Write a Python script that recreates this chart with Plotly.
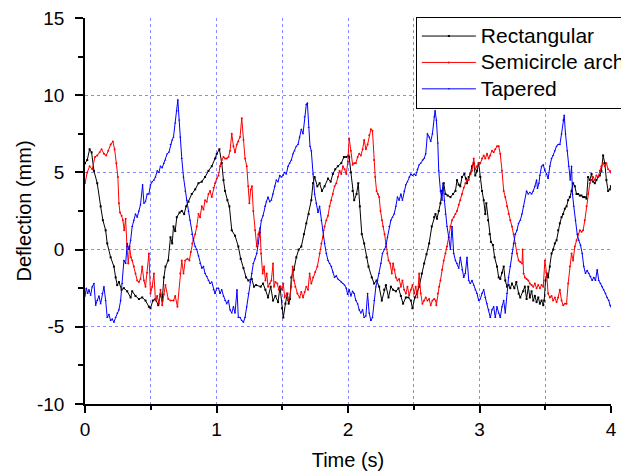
import plotly.graph_objects as go

# ---- Rectangular (black) ----
rect_t = [0.000,0.017,0.035,0.050,0.068,0.093,0.119,0.136,0.157,0.169,0.195,0.220,0.233,0.245,0.258,0.278,0.296,0.321,0.347,0.359,0.384,0.410,0.435,0.460,0.486,0.498,0.516,0.536,0.557,0.574,0.587,0.600,0.612,0.633,0.650,0.663,
          0.673,0.686,0.698,0.719,0.736,0.754,0.769,0.787,0.812,0.838,0.863,0.888,0.913,0.939,0.964,0.989,1.002,1.022,1.040,1.053,1.065,1.083,1.098,1.116,1.141,1.166,1.184,1.205,1.225,1.242,1.268,1.285,1.301,
          1.336,1.354,1.372,1.392,1.412,1.430,1.448,1.468,1.483,1.498,1.508,1.524,1.539,1.549,1.559,1.569,1.589,1.607,1.625,1.645,1.665,1.683,1.701,1.721,1.734,1.746,1.767,1.784,1.802,1.822,1.848,1.868,1.885,1.903,1.923,1.949,1.969,1.987,2.004,
          2.009,2.022,2.035,2.047,2.065,2.078,2.090,2.105,2.123,2.141,2.156,2.181,2.199,2.217,2.237,2.257,2.275,2.288,2.308,2.326,2.343,2.364,2.384,2.402,2.419,2.440,2.460,2.478,2.490,2.508,2.523,2.541,2.561,2.579,2.597,2.617,2.637,2.655,
          2.665,2.677,2.690,2.703,2.715,2.728,2.741,2.758,2.779,2.799,2.817,2.829,2.842,2.854,2.867,2.885,2.898,2.905,2.918,2.930,2.943,2.956,2.968,2.981,2.994,3.006,3.019,3.032,3.044,3.052,3.065,3.077,3.087,3.102,3.115,3.133,3.146,3.158,3.171,3.184,3.196,3.209,3.221,3.234,3.247,3.265,3.280,3.298,3.310,
          3.333,3.345,3.358,3.371,3.383,3.396,3.409,3.421,3.434,3.447,3.459,3.472,3.485,3.492,3.502,3.512,3.522,3.535,3.548,3.560,3.573,3.586,3.598,3.611,3.624,3.636,3.649,3.662,3.674,3.687,3.700,3.712,3.725,3.738,3.750,3.763,3.776,3.788,3.801,3.814,3.826,3.839,3.852,3.864,3.877,3.889,3.902,3.915,3.927,3.940,3.953,3.965,3.978,3.991,3.999]
rect_v = [5.6,5.8,6.5,6.3,5.1,4.3,2.8,1.9,1.25,0.4,-0.5,-1.1,-1.8,-2.3,-2.1,-2.6,-2.5,-2.7,-3.1,-2.7,-3.0,-3.2,-3.1,-3.3,-3.7,-3.8,-3.3,-3.2,-3.6,-2.9,-3.3,-1.8,-1.1,-0.7,0.8,0.4,
          1.5,1.2,2.1,2.4,2.5,2.3,2.8,3.1,3.6,3.9,4.3,4.4,4.7,5.1,5.4,5.9,6.2,6.5,5.6,4.5,3.8,3.2,2.8,1.25,0.9,0.2,-0.6,-1.2,-1.8,-2.0,-1.9,-2.4,-2.3,
          -2.4,-2.2,-2.6,-3.1,-2.4,-3.3,-3.0,-3.4,-2.4,-3.8,-4.4,-3.5,-2.85,-3.5,-3.2,-1.8,-1.3,-0.5,0.0,0.2,1.0,1.7,2.3,3.2,4.3,4.7,4.1,4.3,3.8,4.1,4.6,4.4,4.9,5.2,5.4,5.6,6.0,6.0,6.1,
          6.0,5.0,3.8,3.2,3.6,4.3,2.8,1.0,0.4,-0.5,-1.1,-1.8,-2.2,-2.0,-2.4,-3.3,-2.6,-2.3,-3.1,-2.4,-2.6,-2.7,-2.5,-3.0,-3.5,-3.1,-3.1,-3.3,-3.8,-3.1,-2.85,-2.4,-1.55,-0.9,-0.3,0.4,1.5,2.1,
          2.3,2.0,2.5,3.0,3.8,4.3,3.6,3.5,3.4,3.6,3.8,4.5,4.2,4.1,4.7,4.9,4.6,4.3,4.7,4.9,5.4,5.6,4.8,5.1,5.6,4.7,3.8,3.2,2.3,3.0,1.9,1.0,0.5,0.3,-0.5,-1.1,-1.8,-1.9,-1.5,-1.1,-2.0,-2.4,-2.3,-2.5,-2.2,-2.5,-2.1,-2.85,-3.1,
          -2.7,-2.4,-3.2,-2.4,-3.1,-2.7,-3.3,-3.0,-3.4,-3.1,-3.5,-3.3,-3.6,-3.3,-2.0,-1.55,-1.8,-1.1,-0.25,0.0,0.4,0.6,1.25,1.7,2.1,2.3,2.65,2.8,3.2,3.4,3.8,4.3,4.1,3.6,3.6,3.5,3.5,3.4,3.4,3.3,4.7,4.5,4.9,4.4,4.3,4.5,4.7,4.8,5.1,6.1,5.6,4.5,3.8,3.9,4.1]

# ---- Semicircle arch (red) ----
semi_t = [0.000,0.017,0.035,0.055,0.076,0.093,0.111,0.126,0.144,0.162,0.177,0.195,0.212,0.225,0.238,0.250,0.258,0.266,0.278,0.288,0.298,0.309,0.319,0.329,0.339,0.349,0.359,0.372,0.384,0.397,0.410,0.422,0.435,0.448,0.460,0.473,0.486,0.498,0.511,0.524,0.536,0.549,0.562,0.574,0.587,0.600,0.612,0.633,0.650,
          0.673,0.686,0.703,0.724,0.736,0.749,0.762,0.779,0.794,0.805,0.815,0.825,0.838,0.850,0.863,0.875,0.888,0.901,0.913,0.926,0.939,0.951,0.964,0.977,0.989,1.002,1.015,1.027,1.040,1.053,1.065,1.078,1.091,1.103,1.116,1.129,1.141,1.154,1.166,1.179,1.192,1.205,1.217,1.230,1.242,1.250,1.260,1.270,1.280,1.293,1.306,1.318,1.331,1.339,
          1.351,1.362,1.372,1.382,1.392,1.405,1.417,1.430,1.437,1.448,1.463,1.473,1.488,1.498,1.508,1.518,1.534,1.544,1.556,1.569,1.579,1.589,1.599,1.615,1.632,1.645,1.658,1.670,1.683,1.696,1.708,1.721,1.734,1.751,1.767,1.784,1.797,1.810,1.822,1.835,1.848,1.860,1.873,1.885,1.898,1.911,1.923,1.936,1.949,1.961,1.974,1.987,1.999,
          2.009,2.022,2.035,2.047,2.060,2.073,2.085,2.098,2.111,2.123,2.136,2.149,2.161,2.174,2.186,2.197,2.207,2.217,2.227,2.237,2.247,2.257,2.267,2.278,2.288,2.298,2.308,2.321,2.333,2.343,2.354,2.364,2.376,2.389,2.402,2.414,2.427,2.440,2.452,2.465,2.478,2.490,2.503,2.515,2.528,2.541,2.553,2.566,2.579,2.591,2.604,2.617,2.629,2.642,2.655,2.667,
          2.672,2.682,2.693,2.703,2.715,2.728,2.741,2.753,2.766,2.779,2.791,2.804,2.817,2.829,2.842,2.854,2.867,2.880,2.892,2.905,2.918,2.930,2.943,2.956,2.968,2.981,2.994,3.006,3.019,3.032,3.044,3.057,3.070,3.082,3.095,3.108,3.120,3.133,3.146,3.158,3.171,3.184,3.196,3.209,3.221,3.234,3.247,3.260,3.272,3.285,3.297,3.310,3.323,3.328,3.335,
          3.345,3.358,3.371,3.383,3.396,3.409,3.421,3.434,3.447,3.459,3.472,3.485,3.497,3.510,3.522,3.535,3.548,3.560,3.573,3.586,3.598,3.611,3.624,3.636,3.649,3.662,3.674,3.687,3.700,3.712,3.725,3.738,3.750,3.763,3.776,3.788,3.801,3.814,3.826,3.839,3.852,3.864,3.877,3.889,3.902,3.915,3.927,3.940,3.953,3.965,3.978,3.991,3.999]
semi_v = [4.3,5.0,5.4,5.2,6.0,6.1,6.3,6.5,6.2,6.1,6.4,6.8,7.0,6.5,5.6,4.7,3.0,2.4,2.2,1.9,1.25,2.0,0.2,-0.9,0.2,-0.5,-0.7,-1.1,-1.55,-2.0,-2.1,-1.9,-1.1,-2.0,-2.4,-1.5,-0.25,-2.85,-2.4,-1.55,-3.3,-3.0,-3.5,-2.6,-3.6,-2.9,-2.3,-3.2,-3.3,
          -3.3,-3.0,-3.7,-1.55,-0.7,-1.55,-0.7,-0.6,-0.7,-0.15,0.4,0.7,1.0,1.5,2.3,2.1,2.8,2.6,3.2,3.1,3.6,3.8,3.4,4.0,4.3,4.6,4.8,5.4,5.8,6.0,5.9,5.9,6.0,6.4,7.5,6.7,6.3,6.8,7.0,7.3,8.5,7.1,5.9,5.4,4.1,3.0,3.9,4.1,2.5,1.25,0.2,1.0,1.4,-0.25,
          -1.55,-1.1,-2.0,-1.55,-2.4,-2.2,-2.0,-0.9,-2.4,-2.1,-2.2,-2.6,-2.4,-2.6,-2.2,-3.1,-2.85,-3.3,-3.1,-2.4,-1.1,-2.0,-2.4,-2.85,-3.1,-2.75,-3.1,-2.75,-2.4,-2.6,-1.55,-2.2,-1.8,-1.45,-1.1,-0.25,0.4,0.8,1.5,1.9,2.2,2.8,3.2,3.6,4.1,4.3,4.7,5.1,4.9,5.4,5.2,4.9,5.7,
          7.2,6.4,5.5,5.6,5.6,6.0,6.2,6.1,6.5,7.1,6.5,6.8,7.4,7.8,7.7,5.8,4.7,3.8,3.6,3.4,2.5,1.9,1.5,1.0,0.4,-0.25,-0.7,-0.9,-1.55,-0.9,-1.3,-1.8,-2.0,-1.9,-2.4,-2.0,-2.6,-2.85,-2.4,-2.95,-2.6,-2.3,-2.85,-2.4,-3.1,-1.55,-2.85,-3.5,-3.3,-3.1,-3.3,-3.2,-3.6,-3.3,-3.2,-3.3,
          -3.6,-2.85,-2.4,-2.0,-1.3,-0.7,-0.25,0.2,0.8,1.5,1.9,2.1,2.3,2.5,2.9,3.2,3.6,4.0,4.3,4.5,4.5,4.9,5.1,5.9,5.2,5.4,5.6,5.6,5.9,6.1,5.9,6.2,5.9,6.1,6.4,6.3,6.5,6.7,6.7,6.2,5.1,3.8,3.4,2.8,2.3,1.9,1.5,1.0,0.4,-0.25,-0.7,-0.8,-0.9,0.0,-1.55,
          -1.8,-1.9,-2.0,-2.2,-2.3,-2.4,-2.2,-2.5,-2.3,-2.5,-2.3,-2.4,-0.7,-1.55,-2.85,-3.1,-3.0,-3.3,-3.1,-3.4,-3.1,-2.6,-3.3,-3.6,-3.5,-3.5,-2.2,-1.1,-0.25,-0.7,0.2,0.6,1.0,1.25,1.15,1.25,1.9,2.8,3.6,4.3,4.5,4.7,4.5,4.8,4.7,5.1,5.4,5.6,5.4,5.6,5.2,5.1,5.0]

# ---- Tapered (blue) ----
tap_t = [0.000,0.010,0.020,0.030,0.043,0.055,0.068,0.081,0.093,0.106,0.119,0.131,0.144,0.157,0.169,0.182,0.195,0.207,0.220,0.233,0.245,0.258,0.271,0.283,0.296,0.309,0.321,0.334,0.347,0.359,0.372,0.384,0.397,0.410,0.422,0.438,0.448,0.460,0.473,0.486,0.498,0.511,0.524,0.536,0.549,0.562,0.574,0.587,0.600,0.612,0.625,0.638,0.650,0.663,
         0.673,0.686,0.698,0.706,0.716,0.724,0.736,0.749,0.762,0.774,0.787,0.799,0.812,0.825,0.838,0.850,0.863,0.875,0.888,0.901,0.913,0.926,0.939,0.951,0.964,0.977,0.989,1.002,1.015,1.027,1.040,1.053,1.065,1.078,1.091,1.103,1.116,1.129,1.141,1.156,1.166,1.179,1.192,1.205,1.217,1.230,1.242,1.255,1.268,1.280,1.293,1.306,1.318,1.331,
         1.341,1.354,1.367,1.379,1.392,1.405,1.417,1.430,1.443,1.455,1.468,1.481,1.493,1.506,1.518,1.531,1.544,1.556,1.569,1.582,1.594,1.607,1.620,1.632,1.645,1.658,1.670,1.683,1.691,1.701,1.711,1.721,1.734,1.746,1.759,1.772,1.784,1.797,1.810,1.822,1.835,1.848,1.860,1.873,1.885,1.898,1.911,1.923,1.936,1.949,1.961,1.974,1.987,
         1.997,2.009,2.022,2.035,2.047,2.060,2.073,2.085,2.098,2.111,2.123,2.136,2.149,2.161,2.174,2.186,2.199,2.212,2.224,2.237,2.250,2.262,2.275,2.288,2.300,2.313,2.326,2.338,2.351,2.364,2.376,2.389,2.402,2.414,2.427,2.440,2.452,2.465,2.478,2.490,2.503,2.515,2.528,2.541,2.553,2.566,2.579,2.591,2.604,2.617,2.629,2.642,2.655,2.662,2.672,2.683,
         2.690,2.703,2.715,2.723,2.733,2.741,2.753,2.766,2.779,2.791,2.804,2.817,2.829,2.842,2.854,2.867,2.880,2.892,2.905,2.918,2.930,2.943,2.956,2.968,2.981,2.994,3.006,3.019,3.032,3.044,3.057,3.070,3.082,3.095,3.108,3.120,3.133,3.146,3.158,3.171,3.184,3.196,3.209,3.221,3.234,3.247,3.260,3.272,3.285,3.297,3.310,3.323,3.335,
         3.358,3.371,3.383,3.396,3.409,3.421,3.434,3.441,3.452,3.459,3.472,3.485,3.497,3.510,3.522,3.535,3.548,3.560,3.573,3.586,3.598,3.611,3.624,3.636,3.644,3.654,3.667,3.679,3.690,3.700,3.707,3.717,3.730,3.743,3.755,3.768,3.781,3.793,3.806,3.819,3.831,3.844,3.857,3.869,3.882,3.895,3.907,3.920,3.933,3.945,3.958,3.970,3.983,3.993,3.999]
tap_v = [-3.0,-2.5,-2.85,-2.6,-2.95,-2.4,-2.2,-3.6,-3.3,-3.0,-3.5,-2.85,-2.4,-3.3,-4.4,-4.2,-4.6,-4.5,-4.7,-4.4,-4.1,-3.9,-3.3,-2.2,-0.7,-0.9,0.4,0.0,0.6,1.5,1.9,2.3,2.1,2.5,2.9,4.2,3.0,3.1,3.6,3.6,4.2,4.4,4.5,4.7,5.1,5.0,5.4,5.3,5.6,5.8,6.2,6.3,6.8,7.1,
         7.3,8.2,9.0,9.7,8.4,7.3,5.9,4.7,3.8,3.2,2.5,1.9,1.0,0.6,0.2,0.0,-0.4,-0.9,-1.2,-1.1,-1.55,-1.75,-2.0,-2.2,-2.1,-2.6,-2.85,-2.5,-2.5,-2.85,-2.6,-3.0,-3.3,-3.5,-3.3,-3.9,-4.1,-3.7,-4.1,-2.6,-4.4,-4.4,-4.6,-4.7,-4.4,-3.7,-2.85,-2.1,-1.55,-0.9,-0.6,-0.25,0.4,1.1,
         1.9,2.2,2.8,3.1,3.4,3.1,3.2,3.6,4.1,4.5,4.4,4.8,4.7,4.8,5.0,4.9,5.4,5.6,5.8,6.2,6.4,6.7,6.8,7.3,7.8,7.5,8.6,9.4,9.5,7.9,6.7,6.4,4.9,3.6,3.0,2.4,2.8,1.9,1.25,0.4,-0.25,-0.7,-0.9,-1.1,-1.45,-1.8,-1.7,-1.9,-2.0,-2.1,-2.2,-2.3,-2.5,
         -2.9,-2.6,-3.0,-2.7,-2.85,-3.3,-3.5,-3.9,-4.1,-3.9,-4.4,-4.3,-2.85,-4.1,-4.6,-4.4,-3.3,-2.4,-2.0,-1.55,-0.9,-0.25,0.0,0.2,0.8,1.5,1.9,2.1,2.3,2.8,3.4,3.2,3.6,3.2,3.8,4.2,4.4,4.7,4.9,4.8,4.9,4.8,5.2,5.5,5.6,5.8,5.9,6.2,7.5,7.3,7.0,7.5,8.6,9.0,8.4,6.9,
         5.1,3.8,3.2,4.3,3.2,2.3,1.5,0.8,0.0,1.5,-0.25,-0.7,-0.9,-1.2,-0.5,-1.3,-1.8,-1.55,-0.5,-2.0,-2.2,-2.0,-2.3,-2.6,-2.85,-3.3,-3.2,-2.85,-2.6,-3.1,-3.5,-3.9,-4.4,-3.9,-3.7,-4.4,-3.7,-4.1,-4.4,-3.7,-3.3,-4.1,-2.85,-1.8,-1.1,-0.25,0.4,1.0,1.25,1.7,1.9,2.3,2.8,
         3.8,3.6,3.7,3.6,3.8,4.1,4.5,3.95,4.3,4.8,5.4,5.5,5.1,4.9,4.6,5.4,5.9,6.1,6.4,6.7,6.8,6.8,7.5,8.4,8.7,7.5,6.4,5.4,4.5,5.4,3.6,2.8,1.9,1.0,0.6,0.3,-0.25,-1.1,-1.55,-1.35,-1.55,-1.75,-2.0,-1.8,-2.0,-1.3,-2.0,-2.2,-2.4,-2.6,-2.85,-3.1,-3.3,-3.6,-3.7]

series_names = ["Rectangular", "Semicircle arch", "Tapered"]
series_colors = ["#000000", "#ff0000", "#0000ff"]
series_symbols = ["square", "circle", "triangle-up"]

x_ticks = [0, 1, 2, 3, 4]
x_tick_text = ["0", "1", "2", "3", "4"]
y_ticks = [-10, -5, 0, 5, 10, 15]
y_tick_text = ["-10", "-5", "0", "5", "10", "15"]

FONT = "Liberation Sans, Arial, sans-serif"
GRID = "#8a8aff"

fig = go.Figure()
for name, t, v, c, s in zip(series_names, [rect_t, semi_t, tap_t], [rect_v, semi_v, tap_v],
                            series_colors, series_symbols):
    fig.add_trace(go.Scatter(x=t, y=v, name='<span style="font-size:21px">' + name + '</span>',
                             mode="lines+markers",
                             line=dict(color=c, width=1),
                             marker=dict(symbol=s, size=2, color=c, line=dict(width=0))))

common_x = dict(range=[0, 4], tickmode="array", tickvals=x_ticks, ticktext=x_tick_text,
                showline=True, linecolor="black", linewidth=1.5, zeroline=False, automargin=False)
common_y = dict(range=[-10, 15], tickmode="array", tickvals=y_ticks, ticktext=y_tick_text,
                showline=True, linecolor="black", linewidth=1.5, zeroline=False, automargin=False)

# the page body adds an 8 px offset; figure is sized to fill the rest of the window
fig.update_layout(
    width=621, height=468,
    margin=dict(l=77, r=18, t=10, b=72, autoexpand=False),
    paper_bgcolor="white", plot_bgcolor="white",
    font=dict(family=FONT, color="black"),
    showlegend=True,
    legend=dict(x=0.629, y=1.003, xanchor="left", yanchor="top",
                bgcolor="white", bordercolor="black", borderwidth=1,
                font=dict(size=18, family=FONT), tracegroupgap=0, itemwidth=54),
    xaxis=dict(**common_x, ticks="outside", ticklen=7, tickwidth=1.5, tickcolor="black",
               tickfont=dict(size=19), ticklabelstandoff=0, ticklabeloverflow="allow",
               showgrid=True, gridcolor=GRID, griddash="dot", gridwidth=1,
               minor=dict(tickmode="linear", tick0=0, dtick=0.5, ticks="outside", ticklen=4,
                          tickwidth=1.5, tickcolor="black", showgrid=True, gridcolor=GRID,
                          griddash="dot", gridwidth=1),
               title=dict(text="Time (s)", font=dict(size=20), standoff=14)),
    yaxis=dict(**common_y, ticks="outside", ticklen=8, tickwidth=1.5, tickcolor="black",
               tickfont=dict(size=19), ticklabelstandoff=7, ticklabeloverflow="allow",
               showgrid=True, gridcolor=GRID, griddash="dot", gridwidth=1,
               minor=dict(tickmode="linear", tick0=0, dtick=2.5, ticks="outside", ticklen=5,
                          tickwidth=1.5, tickcolor="black", showgrid=False),
               title=dict(text="Deflection (mm)", font=dict(size=20), standoff=0)),
    xaxis2=dict(**common_x, overlaying="x", side="top", anchor="y", ticks="inside",
                ticklen=7, tickwidth=1.5, tickcolor="black", showticklabels=False, showgrid=False,
                minor=dict(tickmode="linear", tick0=0, dtick=0.5, ticks="inside", ticklen=4,
                           tickwidth=1.5, tickcolor="black")),
    yaxis2=dict(**common_y, overlaying="y", side="right", anchor="x", ticks="inside",
                ticklen=8, tickwidth=1.5, tickcolor="black", showticklabels=False, showgrid=False,
                minor=dict(tickmode="linear", tick0=0, dtick=2.5, ticks="inside", ticklen=5,
                           tickwidth=1.5, tickcolor="black")),
)

fig.write_html("out.html")
